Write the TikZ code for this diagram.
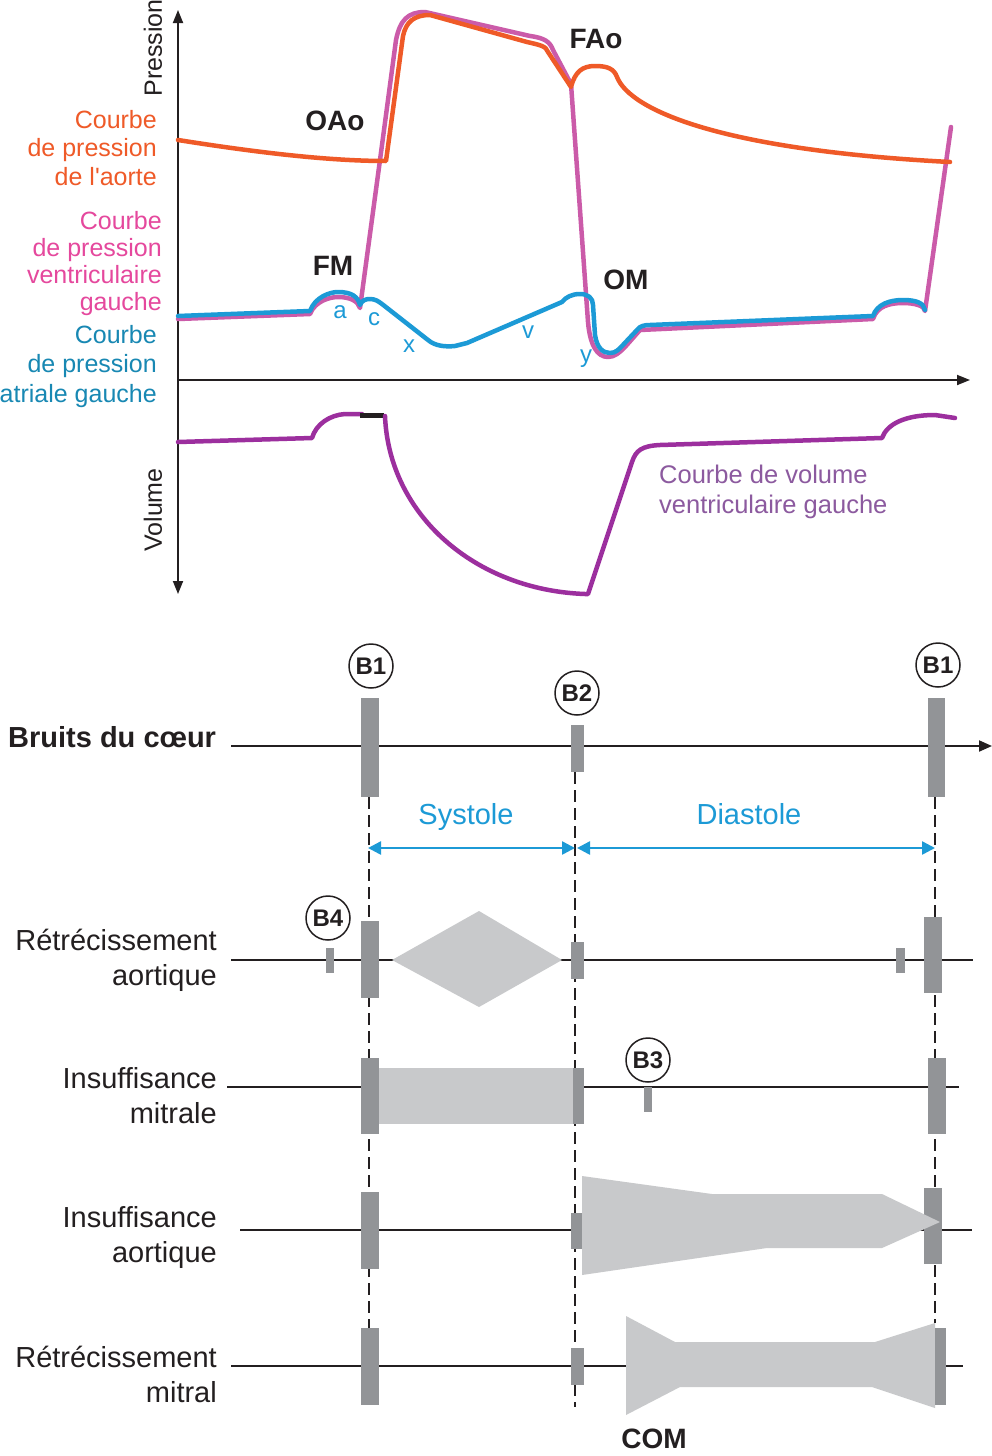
\documentclass[tikz,border=0pt]{standalone}
\usepackage{fontspec}
\setmainfont{Liberation Sans}
\usetikzlibrary{arrows.meta}
\definecolor{cAo}{HTML}{EF5A28}
\definecolor{cLV}{HTML}{CB5BA9}
\definecolor{cLVt}{HTML}{E5489D}
\definecolor{cLA}{HTML}{1C9AD6}
\definecolor{cLAt}{HTML}{1888B3}
\definecolor{cVol}{HTML}{9C2F9E}
\definecolor{cVolt}{HTML}{8C5A9F}
\definecolor{cBar}{HTML}{929497}
\definecolor{cMur}{HTML}{C8C9CB}
\definecolor{cAx}{HTML}{231F20}
\newcommand\rstack[2]{\vtop{\baselineskip=#1\relax\halign{\hfil##\cr#2\crcr}}}
\newcommand\lstack[2]{\vtop{\baselineskip=#1\relax\halign{##\hfil\cr#2\crcr}}}
\begin{document}
\begin{tikzpicture}[x=1pt,y=-1pt,
  crv/.style={line width=4.5pt, line join=round, line cap=round},
  ax/.style={line width=1.8pt, draw=cAx},
  tip/.style={-{Triangle[length=13pt,width=10pt]}},
  lab/.style={inner sep=0, font=\fontsize{25}{28}\selectfont},
  rowlab/.style={inner sep=0, font=\fontsize{29}{35}\selectfont, anchor=base east, text=cAx},
  boldlab/.style={inner sep=0, font=\bfseries\fontsize{28}{33}\selectfont, text=cAx},
  small/.style={inner sep=0, font=\fontsize{24}{28}\selectfont, text=cLA, anchor=base},
  sbar/.style={fill=cBar, draw=none, inner sep=0, outer sep=0, shape=rectangle},
  mur/.style={fill=cMur, draw=none},
  bcirc/.style={circle, draw=cAx, line width=1.5pt, minimum size=44pt, inner sep=0, font=\bfseries\fontsize{24}{26}\selectfont, text=cAx},
  tline/.style={line width=2pt, draw=cAx},
  dsh/.style={line width=2pt, draw=cAx, dash pattern=on 12pt off 6pt},
  sysarr/.style={line width=2.5pt, draw=cLA, {Triangle[length=13pt,width=13pt]}-{Triangle[length=13pt,width=13pt]}}
]
\useasboundingbox (0,0) rectangle (992,1456);
\fill[white] (0,0) rectangle (992,1456);

% ---------- axes ----------
\coordinate (O) at (178,380);
\coordinate (ptop) at (178,10);
\coordinate (vbot) at (178,594);
\coordinate (tend) at (970,380);
\draw[ax,tip] (O) -- (ptop);
\draw[ax,tip] (O) -- (vbot);
\draw[ax,tip] (O) -- (tend);
\node[lab, rotate=90, text=cAx] (pres) at (153,48) {Pression};
\node[lab, rotate=90, text=cAx] (volu) at (153,510) {Volume};

% ---------- left ventricular pressure ----------
\draw[crv, draw=cLV] (178,319) -- (310,314)
  .. controls (315,301) and (330,297) .. (338,297)
  .. controls (350,297) and (358,301) .. (360,308)
  -- (380,160) -- (396,40)
  .. controls (400,20) and (408,12) .. (425,12)
  -- (530,36) .. controls (545,38) and (550,42) .. (553,50)
  -- (571,84) -- (588,322)
  .. controls (590,345) and (597,357) .. (608,357)
  .. controls (615,357) and (620,352) .. (625,347)
  -- (640,330) -- (873,319)
  .. controls (877,306) and (890,303) .. (903,303)
  .. controls (915,303) and (925,306) .. (925,311)
  -- (951,127);

% ---------- aortic pressure ----------
\draw[crv, draw=cAo] (178,140) .. controls (260,153) and (330,161) .. (386,161)
  -- (403,36) .. controls (406,22) and (414,15) .. (430,15)
  -- (527,42) .. controls (540,45) and (546,46) .. (548,52)
  -- (571,87) .. controls (575,72) and (582,66) .. (595,66)
  .. controls (608,66) and (614,69) .. (617,77)
  .. controls (630,110) and (720,150) .. (950,162);

% ---------- left atrial pressure ----------
\draw[crv, draw=cLA] (178,316) -- (310,311)
  .. controls (315,297) and (330,292) .. (338,292)
  .. controls (352,292) and (358,297) .. (360,305)
  .. controls (362,300) and (366,299) .. (370,299)
  .. controls (375,299) and (378,301) .. (382,304)
  -- (428,340) .. controls (435,346) and (445,347) .. (455,346)
  -- (467,343) -- (562,302)
  .. controls (566,297) and (572,294) .. (580,294)
  .. controls (588,294) and (593,298) .. (593,305)
  -- (595,335) .. controls (597,348) and (603,353) .. (610,353)
  .. controls (616,353) and (619,349) .. (622,346)
  -- (637,330) .. controls (640,326) and (644,325) .. (650,325)
  -- (873,316) .. controls (877,304) and (890,300) .. (903,300)
  .. controls (916,300) and (924,303) .. (925,310);

% ---------- volume ----------
\draw[crv, draw=cVol] (178,442) -- (312,438)
  .. controls (316,424) and (330,415) .. (345,414) -- (362,414);
\draw[line width=5pt, draw=cAx] (360,415.5) -- (384,415.5);
\draw[crv, draw=cVol] (385,416) .. controls (389,515) and (475,590) .. (585,594)
  -- (588,594) -- (632,462) .. controls (636,450) and (642,446) .. (660,445)
  -- (882,438) .. controls (887,424) and (905,415) .. (935,415) -- (955,418);

% ---------- curve labels ----------
\node[lab, text=cAo, anchor=base east] (tAo) at (157,128) {\rstack{28.5pt}{Courbe\cr de pression\cr de l\textquotesingle aorte}};
\node[lab, text=cLVt, anchor=base east] (tLV) at (162,229) {\rstack{27.3pt}{Courbe\cr de pression\cr ventriculaire\cr gauche}};
\node[lab, text=cLAt, anchor=base east] (tLA) at (157,343) {\rstack{29.5pt}{Courbe\cr de pression\cr atriale gauche}};
\node[lab, font=\fontsize{25.5}{30}\selectfont, text=cVolt, anchor=base west] (tVol) at (659,483) {\lstack{30pt}{Courbe de volume\cr ventriculaire gauche}};

\node[boldlab, anchor=base] (oao) at (335,130) {OAo};
\node[boldlab, anchor=base] (fm) at (333,275) {FM};
\node[boldlab, anchor=base] (fao) at (596,48) {FAo};
\node[boldlab, anchor=base] (om) at (626,289) {OM};

\node[small] (la) at (340,318) {a};
\node[small] (lc) at (374,325) {c};
\node[small] (lx) at (409,352) {x};
\node[small] (lv) at (528,338) {v};
\node[small] (ly) at (586,362) {y};

% ---------- heart sounds ----------
\node[boldlab, font=\bfseries\fontsize{29}{33}\selectfont, anchor=base west] (bruits) at (8,747) {Bruits du cœur};
\coordinate (t0s) at (231,746);
\coordinate (t0e) at (992,746);
\draw[tline, -{Triangle[length=13pt,width=11pt]}] (t0s) -- (t0e);

% dashed guides
\coordinate (d1s) at (368.5,797); \coordinate (d1e) at (368.5,1405);
\coordinate (d2s) at (574.5,772); \coordinate (d2e) at (574.5,1407);
\coordinate (d3s) at (935,797); \coordinate (d3e) at (935,1323);
\draw[dsh] (d1s) -- (d1e);
\draw[dsh] (d2s) -- (d2e);
\draw[dsh] (d3s) -- (d3e);

\node[sbar, minimum width=18pt, minimum height=99pt] (hb1) at (370,747.5) {};
\node[sbar, minimum width=13pt, minimum height=47pt] (hb2) at (577.5,748.5) {};
\node[sbar, minimum width=17pt, minimum height=99pt] (hb1b) at (936.5,747.5) {};
\node[bcirc] (cb1) at (371,666) {B1};
\node[bcirc] (cb2) at (577,693) {B2};
\node[bcirc] (cb1b) at (938,665) {B1};

\node[lab, font=\fontsize{29}{33}\selectfont, text=cLA, anchor=base] (sys) at (466,824) {Systole};
\node[lab, font=\fontsize{29}{33}\selectfont, text=cLA, anchor=base] (dia) at (749,824) {Diastole};
\coordinate (s0) at (368,848); \coordinate (s1) at (575,848);
\coordinate (s2) at (577,848); \coordinate (s3) at (935,848);
\draw[sysarr] (s0) -- (s1);
\draw[sysarr] (s2) -- (s3);

% ---------- Rétrécissement aortique ----------
\node[rowlab] (ra1) at (217,950) {Rétrécissement};
\node[rowlab] (ra2) at (217,985) {aortique};
\coordinate (r1s) at (231,960); \coordinate (r1e) at (973,960);
\draw[tline] (r1s) -- (r1e);
\node[sbar, minimum width=8pt, minimum height=25pt] (rb4) at (330,960.5) {};
\node[sbar, minimum width=18pt, minimum height=77pt] (rb1) at (370,959.5) {};
\fill[mur] (392,960) -- (479,911) -- (562,960) -- (479,1007) -- cycle;
\node[sbar, minimum width=13pt, minimum height=37pt] (rb2) at (577.5,960.5) {};
\node[sbar, minimum width=9pt, minimum height=25pt] (rb4b) at (900.5,960.5) {};
\node[sbar, minimum width=18pt, minimum height=76pt] (rb1b) at (933,955) {};
\node[bcirc] (cb4) at (328,918) {B4};

% ---------- Insuffisance mitrale ----------
\node[rowlab] (im1) at (217,1088) {Insuffisance};
\node[rowlab] (im2) at (217,1123) {mitrale};
\coordinate (r2s) at (227,1087); \coordinate (r2e) at (959,1087);
\draw[tline] (r2s) -- (r2e);
\node[sbar, minimum width=18pt, minimum height=76pt] (mb1) at (370,1096) {};
\fill[mur] (379,1068) rectangle (573,1124);
\node[sbar, minimum width=11pt, minimum height=56pt] (mb2) at (578.5,1096) {};
\node[sbar, minimum width=8pt, minimum height=25pt] (mb3) at (648,1099.5) {};
\node[sbar, minimum width=18pt, minimum height=76pt] (mb1b) at (937,1096) {};
\node[bcirc] (cb3) at (648,1060) {B3};

% ---------- Insuffisance aortique ----------
\node[rowlab] (ia1) at (217,1227) {Insuffisance};
\node[rowlab] (ia2) at (217,1262) {aortique};
\coordinate (r3s) at (240,1230); \coordinate (r3e) at (972,1230);
\draw[tline] (r3s) -- (r3e);
\node[sbar, minimum width=18pt, minimum height=77pt] (ab1) at (370,1230.5) {};
\node[sbar, minimum width=11pt, minimum height=36pt] (ab2) at (576.5,1231) {};
\node[sbar, minimum width=18pt, minimum height=76pt] (ab1b) at (933,1226) {};
\fill[mur] (582,1176) -- (712,1194) -- (882,1194) -- (940,1222) -- (882,1248) -- (767,1248) -- (582,1275) -- cycle;

% ---------- Rétrécissement mitral ----------
\node[rowlab] (rm1) at (217,1367) {Rétrécissement};
\node[rowlab] (rm2) at (217,1402) {mitral};
\coordinate (r4s) at (231,1366); \coordinate (r4e) at (963,1366);
\draw[tline] (r4s) -- (r4e);
\node[sbar, minimum width=18pt, minimum height=77pt] (tb1) at (370,1366.5) {};
\node[sbar, minimum width=13pt, minimum height=37pt] (tb2) at (577.5,1366.5) {};
\fill[mur] (626,1316) -- (675,1342) -- (875,1342) -- (935,1323) -- (935,1408) -- (872,1387) -- (680,1387) -- (626,1415) -- cycle;
\node[sbar, minimum width=11pt, minimum height=77pt] (tb1b) at (940.5,1366.5) {};
\node[boldlab, anchor=base] (com) at (654,1448) {COM};
\end{tikzpicture}
\end{document}
